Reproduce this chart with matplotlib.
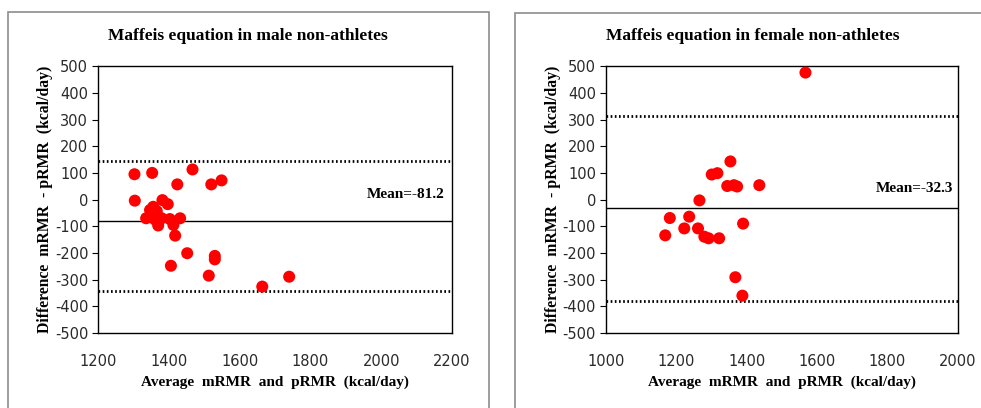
import matplotlib
matplotlib.use("Agg")
import matplotlib.pyplot as plt
from matplotlib.patches import Rectangle

# Bland-Altman data: average of measured/predicted RMR vs their difference
male_avg = [1303, 1353, 1467, 1424, 1520, 1549, 1304, 1382, 1397, 1356, 1347,
            1366, 1336, 1361, 1380, 1370, 1403, 1432, 1413, 1418, 1452, 1530,
            1530, 1406, 1513, 1664, 1740]
male_diff = [95, 100, 113, 57, 57, 72, -4, -2, -17, -27, -39,
             -43, -70, -75, -70, -97, -73, -70, -95, -135, -201, -211,
             -224, -248, -285, -326, -289]
male_mean = -81.2
male_limits = [144, -344]

female_avg = [1567, 1354, 1301, 1317, 1345, 1364, 1373, 1436, 1266, 1182,
              1237, 1169, 1223, 1262, 1280, 1292, 1322, 1390, 1368, 1388]
female_diff = [476, 143, 94, 99, 51, 54, 49, 54, -3, -69,
               -64, -134, -108, -108, -139, -145, -145, -90, -291, -360]
female_mean = -32.3
female_limits = [314, -380]

serif = "Liberation Serif"
plt.rcParams["axes.unicode_minus"] = False

fig = plt.figure(figsize=(9.81, 4.08), dpi=100)

# grey chart-area frames
fig.patches.append(Rectangle((8 / 981, -0.05), 481 / 981, 1.05 - 12 / 408,
                             transform=fig.transFigure, fill=False,
                             edgecolor="#8c8c8c", lw=1.2))
fig.patches.append(Rectangle((515 / 981, -0.05), 0.6, 1.05 - 13 / 408,
                             transform=fig.transFigure, fill=False,
                             edgecolor="#8c8c8c", lw=1.2))

panels = [
    dict(pos=[98 / 981, 0.1838, 354 / 981, 0.654], avg=male_avg, diff=male_diff,
         mean=male_mean, limits=male_limits, xlim=(1200, 2200),
         title="Maffeis equation in male non-athletes", tx=2180, ty=20,
         title_x=248 / 981),
    dict(pos=[605.7 / 981, 0.1838, 352.3 / 981, 0.654], avg=female_avg,
         diff=female_diff, mean=female_mean, limits=female_limits,
         xlim=(1000, 2000), title="Maffeis equation in female non-athletes",
         tx=1986, ty=43, title_x=753 / 981),
]

for p in panels:
    ax = fig.add_axes(p["pos"])
    ax.scatter(p["avg"], p["diff"], s=75, color="#ff0000", edgecolors="none",
               zorder=3)
    ax.axhline(p["mean"], color="black", lw=1.0, zorder=2)
    for lim in p["limits"]:
        ax.axhline(lim, color="black", lw=2.0, linestyle=(0, (0.6, 0.9)),
                   zorder=2)
    ax.text(p["tx"], p["ty"], "Mean=%.1f" % p["mean"], ha="right", va="center",
            fontsize=11, fontweight="bold", family=serif)

    ax.set_xlim(*p["xlim"])
    ax.set_ylim(-500, 500)
    ax.set_xticks(range(p["xlim"][0], p["xlim"][1] + 1, 200))
    ax.set_yticks(range(-500, 501, 100))
    ax.tick_params(axis="y", direction="out", length=4, width=0.8,
                   labelsize=10.5, pad=3)
    ax.tick_params(axis="x", length=0, labelsize=10.5, pad=15)
    for lab in ax.get_xticklabels() + ax.get_yticklabels():
        lab.set_color("#2a2a2a")
    for sp in ax.spines.values():
        sp.set_linewidth(1.0)
        sp.set_color("black")

    ax.set_xlabel("Average  mRMR  and  pRMR  (kcal/day)", fontsize=11,
                  fontweight="bold", family=serif, labelpad=5)
    ax.set_ylabel("Difference  mRMR  - pRMR  (kcal/day)", fontsize=11.3,
                  fontweight="bold", family=serif, labelpad=1)
    fig.text(p["title_x"], 1 - 36 / 408, p["title"], ha="center", va="center",
             fontsize=12.5, fontweight="bold", family=serif)

fig.savefig("out.png", dpi=100)
